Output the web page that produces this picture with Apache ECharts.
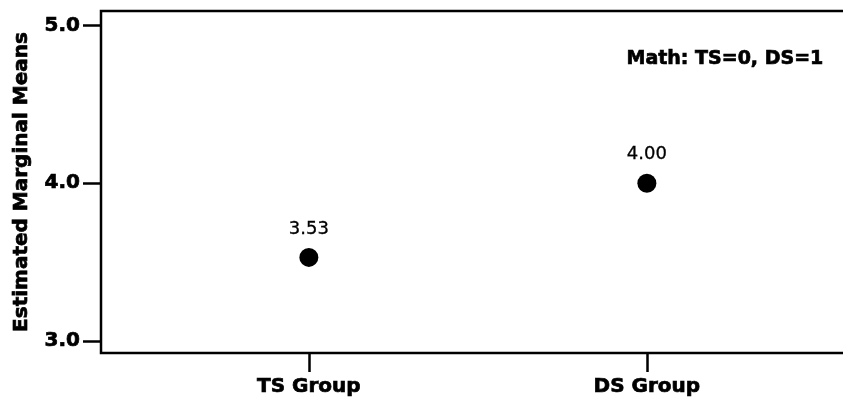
<!DOCTYPE html>
<html>
<head>
<meta charset="utf-8">
<script src="https://cdn.jsdelivr.net/npm/echarts@6/dist/echarts.min.js"></script>
<style>
  html, body { margin: 0; padding: 0; background: #fff; }
  #chart { width: 843px; height: 403px; }
</style>
</head>
<body>
<div id="chart"></div>
<script>
// Group labels on the horizontal axis (position 0 and 1)
const groups = ['TS Group', 'DS Group'];
// Estimated marginal means per group
const means = [3.53, 4.00];
// Value-axis tick labels
const yTicks = [3, 4, 5];
const note = 'Math: TS=0, DS=1';

const FONT = '"DejaVu Sans", "Liberation Sans", sans-serif';
// shared style for the heavy axis/annotation text
const heavy = { color: '#000', fontFamily: FONT, fontWeight: 'bold', textBorderColor: '#000', textBorderWidth: 0.7 };

const chart = echarts.init(document.getElementById('chart'), null, { renderer: 'canvas' });

chart.setOption({
  animation: false,
  backgroundColor: '#fff',
  title: {
    text: note,
    right: 14,
    top: 45,
    textStyle: Object.assign({}, heavy, { fontSize: 19 })
  },
  // plot frame runs past the right edge of the canvas
  grid: {
    left: 101, top: 11, bottom: 50, right: -30,
    outerBoundsMode: 'none',
    containLabel: false,
    show: true, borderColor: '#000', borderWidth: 2.5, backgroundColor: 'transparent'
  },
  xAxis: {
    type: 'value',
    min: -0.615, max: 1.669,
    splitLine: { show: false },
    axisLine: { show: false, onZero: false },
    axisTick: { show: true, inside: false, length: 19, customValues: [0, 1],
      lineStyle: { color: '#000', width: 2.5 } },
    axisLabel: Object.assign({
      customValues: [0, 1],
      formatter: v => groups[Math.round(v)] || '',
      fontSize: 20, margin: 24
    }, heavy)
  },
  yAxis: {
    type: 'value',
    min: 2.924, max: 5.092,
    name: 'Estimated Marginal Means',
    nameLocation: 'middle',
    nameGap: 69,
    nameTextStyle: Object.assign({}, heavy, { fontSize: 20 }),
    splitLine: { show: false },
    axisLine: { show: false, onZero: false },
    axisTick: { show: true, inside: false, length: 18, customValues: yTicks,
      lineStyle: { color: '#000', width: 2.5 } },
    axisLabel: Object.assign({
      customValues: yTicks,
      formatter: v => v.toFixed(1),
      fontSize: 20, margin: 21
    }, heavy)
  },
  series: [{
    type: 'scatter',
    symbol: 'circle',
    symbolSize: 19,
    itemStyle: { color: '#000', opacity: 1 },
    data: means.map((m, i) => [i, m]),
    label: {
      show: true,
      position: 'top',
      distance: 10,
      formatter: p => p.value[1].toFixed(2),
      color: '#000', fontFamily: FONT, fontSize: 18,
      textBorderColor: '#000', textBorderWidth: 0.3
    }
  }]
});
</script>
</body>
</html>
